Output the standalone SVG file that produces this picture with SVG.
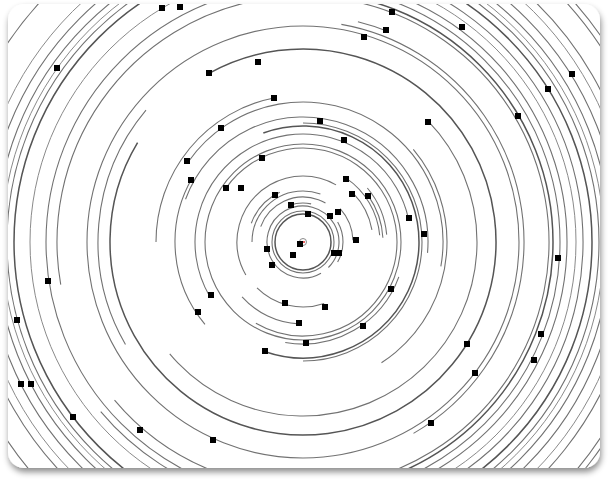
<svg xmlns="http://www.w3.org/2000/svg" width="610" height="480" viewBox="0 0 610 480">
<style>
.card{fill:#fff}
.rings circle{fill:none;stroke:#727272;stroke-width:1.1}
.rings .d{stroke:#555;stroke-width:1.5}
.rings .l{stroke:#8a8a8a;stroke-width:1}
.sq rect{fill:#000}
</style>
<defs>
<filter id="sh" x="-5%" y="-5%" width="110%" height="115%">
<feDropShadow dx="1" dy="4" stdDeviation="3" flood-color="#000" flood-opacity="0.45"/>
</filter>
<clipPath id="cp"><rect x="8" y="4" width="592" height="464" rx="16"/></clipPath>
</defs>
<rect width="610" height="480" fill="#fff"/>
<rect class="card" x="8" y="4" width="592" height="464" rx="16" filter="url(#sh)"/>
<g clip-path="url(#cp)">
<g class="rings" transform="translate(303 242)">
<circle r="3.5" class="l"/>
<circle r="28" class="d"/>
<circle r="31"/>
<circle r="36" pathLength="360" stroke-dasharray="345 400" transform="rotate(60)"/>
<circle r="39" pathLength="360" stroke-dasharray="32 400" transform="rotate(250)"/>
<circle r="40" pathLength="360" stroke-dasharray="60 400" transform="rotate(330)"/>
<circle r="45" pathLength="360" stroke-dasharray="100 400" transform="rotate(200)"/>
<circle r="51" pathLength="360" stroke-dasharray="110 400" transform="rotate(180)"/>
<circle r="50" pathLength="360" stroke-dasharray="40 400" transform="rotate(318)"/>
<circle r="55" pathLength="360" stroke-dasharray="45 400" transform="rotate(200)"/>
<circle r="66" pathLength="360" stroke-dasharray="150 400" transform="rotate(150)"/>
<circle r="65" pathLength="360" stroke-dasharray="64 400" transform="rotate(71)"/>
<circle r="70" pathLength="360" stroke-dasharray="34 400" transform="rotate(316)"/>
<circle r="77" pathLength="360" stroke-dasharray="51 400" transform="rotate(304)"/>
<circle r="80" pathLength="360" stroke-dasharray="32 400" transform="rotate(325)"/>
<circle r="84" pathLength="360" stroke-dasharray="35 400" transform="rotate(320)"/>
<circle r="82" pathLength="360" stroke-dasharray="45 400" transform="rotate(93)"/>
<circle r="94" pathLength="360" stroke-dasharray="265 400" transform="rotate(215)"/>
<circle r="98"/>
<circle r="102" pathLength="360" stroke-dasharray="80 400" transform="rotate(20)"/>
<circle r="108" pathLength="360" stroke-dasharray="197 400" transform="rotate(150)"/>
<circle r="116" class="d" pathLength="360" stroke-dasharray="219 400" transform="rotate(250)"/>
<circle r="119" pathLength="360" stroke-dasharray="180 400" transform="rotate(270)"/>
<circle r="125" pathLength="360" stroke-dasharray="165 400" transform="rotate(200)"/>
<circle r="128" pathLength="360" stroke-dasharray="70 400" transform="rotate(140)"/>
<circle r="140" pathLength="360" stroke-dasharray="155 400" transform="rotate(215)"/>
<circle r="144" pathLength="360" stroke-dasharray="97 400" transform="rotate(320)"/>
<circle r="147" pathLength="360" stroke-dasharray="79 400" transform="rotate(180)"/>
<circle r="174" pathLength="360" stroke-dasharray="184 400" transform="rotate(316)"/>
<circle r="193" class="d" pathLength="360" stroke-dasharray="330 400" transform="rotate(241)"/>
<circle r="205" pathLength="360" stroke-dasharray="70 400" transform="rotate(150)"/>
<circle r="216"/>
<circle r="221" pathLength="360" stroke-dasharray="140 400" transform="rotate(280)"/>
<circle r="227" pathLength="360" stroke-dasharray="8 400" transform="rotate(284)"/>
<circle r="246" pathLength="360" stroke-dasharray="330 400" transform="rotate(170)"/>
<circle r="250" class="d" pathLength="360" stroke-dasharray="200 400" transform="rotate(270)"/>
<circle r="257"/>
<circle r="264" pathLength="360" stroke-dasharray="250 400" transform="rotate(250)"/>
<circle r="273" class="l"/>
<circle r="280" pathLength="360" stroke-dasharray="200 400" transform="rotate(260)"/>
<circle r="289" class="d"/>
<circle r="296"/>
<circle r="301" class="l"/>
<circle r="307"/>
<circle r="316"/>
<circle r="326" class="l"/>
<circle r="334" pathLength="360" stroke-dasharray="320 400" transform="rotate(240)"/>
<circle r="356"/>
<circle r="362" pathLength="360" stroke-dasharray="160 400" transform="rotate(290)"/>
</g>
<circle cx="304" cy="242" r="1" fill="#e03030"/>
<g class="sq">
<rect x="159" y="5" width="6" height="6"/><rect x="177" y="4" width="6" height="6"/>
<rect x="389" y="9" width="6" height="6"/><rect x="459" y="24" width="6" height="6"/>
<rect x="383" y="27" width="6" height="6"/><rect x="361" y="34" width="6" height="6"/>
<rect x="54" y="65" width="6" height="6"/><rect x="255" y="59" width="6" height="6"/>
<rect x="206" y="70" width="6" height="6"/><rect x="569" y="71" width="6" height="6"/>
<rect x="545" y="86" width="6" height="6"/><rect x="271" y="95" width="6" height="6"/>
<rect x="515" y="113" width="6" height="6"/><rect x="425" y="119" width="6" height="6"/>
<rect x="317" y="118" width="6" height="6"/><rect x="218" y="125" width="6" height="6"/>
<rect x="341" y="137" width="6" height="6"/><rect x="184" y="158" width="6" height="6"/>
<rect x="259" y="155" width="6" height="6"/><rect x="188" y="177" width="6" height="6"/>
<rect x="343" y="176" width="6" height="6"/><rect x="223" y="185" width="6" height="6"/>
<rect x="238" y="185" width="6" height="6"/><rect x="349" y="191" width="6" height="6"/>
<rect x="365" y="193" width="6" height="6"/><rect x="272" y="192" width="6" height="6"/>
<rect x="288" y="202" width="6" height="6"/><rect x="305" y="211" width="6" height="6"/>
<rect x="327" y="213" width="6" height="6"/><rect x="335" y="209" width="6" height="6"/>
<rect x="406" y="215" width="6" height="6"/><rect x="421" y="231" width="6" height="6"/>
<rect x="353" y="237" width="6" height="6"/><rect x="264" y="246" width="6" height="6"/>
<rect x="297" y="241" width="6" height="6"/><rect x="331" y="250" width="6" height="6"/>
<rect x="336" y="250" width="6" height="6"/><rect x="290" y="252" width="6" height="6"/>
<rect x="269" y="262" width="6" height="6"/><rect x="555" y="255" width="6" height="6"/>
<rect x="45" y="278" width="6" height="6"/><rect x="388" y="286" width="6" height="6"/>
<rect x="208" y="292" width="6" height="6"/><rect x="282" y="300" width="6" height="6"/>
<rect x="322" y="304" width="6" height="6"/><rect x="195" y="309" width="6" height="6"/>
<rect x="14" y="317" width="6" height="6"/><rect x="296" y="320" width="6" height="6"/>
<rect x="360" y="323" width="6" height="6"/><rect x="538" y="331" width="6" height="6"/>
<rect x="303" y="340" width="6" height="6"/><rect x="464" y="341" width="6" height="6"/>
<rect x="262" y="348" width="6" height="6"/><rect x="531" y="357" width="6" height="6"/>
<rect x="472" y="370" width="6" height="6"/><rect x="18" y="381" width="6" height="6"/>
<rect x="28" y="381" width="6" height="6"/><rect x="70" y="414" width="6" height="6"/>
<rect x="428" y="420" width="6" height="6"/><rect x="137" y="427" width="6" height="6"/>
<rect x="210" y="437" width="6" height="6"/>
</g>
</g>
</svg>
